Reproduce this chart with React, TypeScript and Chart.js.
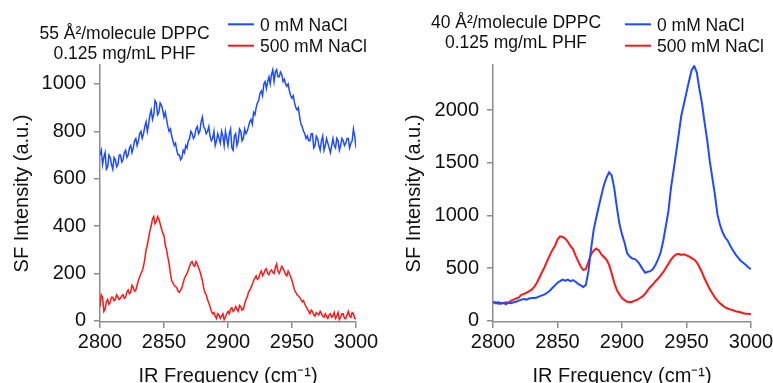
import React, { useEffect, useRef } from "react";
import { Chart, registerables } from "chart.js";

Chart.register(...registerables);

// ---------------- data ----------------
// 55 Å²/molecule panel: sampled every 1 cm-1
const FREQ_LEFT = [
  2800, 2801, 2802, 2803, 2804, 2805, 2806, 2807, 2808, 2809,
  2810, 2811, 2812, 2813, 2814, 2815, 2816, 2817, 2818, 2819,
  2820, 2821, 2822, 2823, 2824, 2825, 2826, 2827, 2828, 2829,
  2830, 2831, 2832, 2833, 2834, 2835, 2836, 2837, 2838, 2839,
  2840, 2841, 2842, 2843, 2844, 2845, 2846, 2847, 2848, 2849,
  2850, 2851, 2852, 2853, 2854, 2855, 2856, 2857, 2858, 2859,
  2860, 2861, 2862, 2863, 2864, 2865, 2866, 2867, 2868, 2869,
  2870, 2871, 2872, 2873, 2874, 2875, 2876, 2877, 2878, 2879,
  2880, 2881, 2882, 2883, 2884, 2885, 2886, 2887, 2888, 2889,
  2890, 2891, 2892, 2893, 2894, 2895, 2896, 2897, 2898, 2899,
  2900, 2901, 2902, 2903, 2904, 2905, 2906, 2907, 2908, 2909,
  2910, 2911, 2912, 2913, 2914, 2915, 2916, 2917, 2918, 2919,
  2920, 2921, 2922, 2923, 2924, 2925, 2926, 2927, 2928, 2929,
  2930, 2931, 2932, 2933, 2934, 2935, 2936, 2937, 2938, 2939,
  2940, 2941, 2942, 2943, 2944, 2945, 2946, 2947, 2948, 2949,
  2950, 2951, 2952, 2953, 2954, 2955, 2956, 2957, 2958, 2959,
  2960, 2961, 2962, 2963, 2964, 2965, 2966, 2967, 2968, 2969,
  2970, 2971, 2972, 2973, 2974, 2975, 2976, 2977, 2978, 2979,
  2980, 2981, 2982, 2983, 2984, 2985, 2986, 2987, 2988, 2989,
  2990, 2991, 2992, 2993, 2994, 2995, 2996, 2997, 2998, 2999,
  3000,
];

const LEFT_0MM = [
  700, 720, 660, 690, 710, 640, 650, 700, 690, 660,
  640, 690, 680, 650, 660, 700, 700, 670, 680, 710,
  720, 690, 700, 730, 740, 710, 730, 760, 770, 740,
  760, 790, 800, 770, 790, 820, 840, 800, 830, 870,
  890, 850, 870, 930, 920, 870, 880, 920, 910, 890,
  860, 880, 850, 820, 800, 810, 780, 760, 740, 750,
  720, 700, 700, 680, 690, 720, 710, 740, 730, 760,
  770, 800, 790, 770, 780, 810, 820, 790, 800, 840,
  860, 820, 810, 790, 800, 820, 780, 760, 770, 800,
  740, 760, 790, 770, 750, 800, 780, 740, 800, 770,
  740, 790, 810, 730, 720, 780, 790, 740, 760, 810,
  800, 760, 770, 810, 790, 800, 820, 840, 850, 830,
  880, 870, 900, 920, 930, 960, 970, 950, 1000, 1010,
  980, 1010, 1030, 1000, 1040, 1060, 1010, 1050, 1060, 1030,
  1030, 1050, 1040, 1010, 1020, 1000, 990, 1000, 970, 950,
  940, 950, 920, 900, 890, 900, 860, 830, 820, 800,
  790, 770, 780, 760, 760, 790, 790, 730, 740, 780,
  770, 740, 720, 760, 780, 720, 740, 770, 750, 730,
  710, 740, 770, 740, 730, 770, 760, 720, 740, 770,
  760, 740, 750, 770, 770, 730, 750, 760, 810, 780,
  730,
];

const LEFT_500MM = [
  60, 110, 100, 40, 50, 80, 90, 70, 80, 100,
  100, 85, 90, 110, 100, 90, 95, 105, 110, 95,
  100, 120, 130, 115, 120, 150, 140, 125, 130, 150,
  170, 185, 200, 210, 230, 260, 300, 320, 350, 380,
  400, 430, 440, 410, 420, 440, 430, 410, 390, 370,
  360, 320, 300, 270, 240, 200, 170, 160, 150, 145,
  140, 125, 120, 130, 140, 160, 180, 190, 200, 215,
  230, 245, 250, 235, 230, 250, 240, 225, 210, 190,
  170, 140, 120, 110, 90, 75, 60, 40, 30, 35,
  20, 10, 30, 25, 10, 20, 30, 5, 15, 30,
  40, 30, 50, 55, 40, 45, 60, 50, 40, 65,
  60, 45, 50, 70, 90, 100, 120, 130, 140, 155,
  170, 180, 190, 175, 180, 200, 210, 190, 200, 215,
  220, 200, 195, 210, 215, 205, 200, 225, 240, 210,
  200, 215, 230, 220, 210, 195, 190, 210, 200, 185,
  170, 150, 130, 120, 110, 105, 100, 90, 80, 85,
  70, 60, 50, 40, 30, 45, 40, 25, 20, 35,
  30, 25, 40, 30, 20, 15, 30, 20, 10, 25,
  30, 15, 20, 35, 10, 20, 35, 5, 15, 30,
  30, 10, 10, 25, 40, 20, 15, 35, 30, 10,
  10,
];

// 40 Å²/molecule panel: sampled every 2 cm-1
const FREQ_RIGHT = [
  2800, 2802, 2804, 2806, 2808, 2810, 2812, 2814, 2816, 2818,
  2820, 2822, 2824, 2826, 2828, 2830, 2832, 2834, 2836, 2838,
  2840, 2842, 2844, 2846, 2848, 2850, 2852, 2854, 2856, 2858,
  2860, 2862, 2864, 2866, 2868, 2870, 2872, 2874, 2876, 2878,
  2880, 2882, 2884, 2886, 2888, 2890, 2892, 2894, 2896, 2898,
  2900, 2902, 2904, 2906, 2908, 2910, 2912, 2914, 2916, 2918,
  2920, 2922, 2924, 2926, 2928, 2930, 2932, 2934, 2936, 2938,
  2940, 2942, 2944, 2946, 2948, 2950, 2952, 2954, 2956, 2958,
  2960, 2962, 2964, 2966, 2968, 2970, 2972, 2974, 2976, 2978,
  2980, 2982, 2984, 2986, 2988, 2990, 2992, 2994, 2996, 2998,
  3000,
];

const RIGHT_0MM = [
  180, 165, 175, 160, 170, 155, 170, 165, 175, 180,
  190, 200, 205, 200, 210, 215, 215, 220, 230, 240,
  250, 265, 285, 310, 335, 360, 375, 390, 380, 390,
  375, 385, 370, 350, 335, 320, 340, 470, 680, 860,
  975, 1085, 1190, 1290, 1360, 1410, 1380, 1260, 1080, 920,
  820, 740, 640, 610, 590, 585, 565, 530, 490, 455,
  465, 470, 490, 530, 585, 650, 760, 900, 1043, 1265,
  1430, 1600, 1775, 1950, 2060, 2170, 2280, 2380, 2420, 2360,
  2200, 2065, 1885, 1720, 1520, 1360, 1200, 1010, 910, 840,
  790, 760, 710, 670, 630, 600, 570, 550, 530, 505,
  490,
];
const RIGHT_500MM = [
  170, 175, 160, 170, 165, 175, 170, 190, 200, 210,
  220, 245, 255, 265, 280, 295, 320, 360, 410, 460,
  510, 565, 620, 670, 710, 770, 800, 795, 780, 750,
  710, 680, 620, 565, 515, 480, 490, 560, 630, 665,
  685, 670, 630, 605, 580, 530, 450, 360, 290, 250,
  215, 195, 180, 175, 180, 190, 200, 215, 230, 255,
  290, 320, 345, 375, 400, 430, 460, 500, 540, 580,
  610, 630, 635, 625, 630, 620, 610, 595, 580, 555,
  510, 460, 400, 350, 300, 260, 220, 190, 165, 145,
  125, 115, 105, 100, 90, 85, 80, 70, 65, 65,
  60,
];

const X_TICKS = [2800, 2850, 2900, 2950, 3000];
const LEFT_Y_TICKS = [0, 200, 400, 600, 800, 1000];
const RIGHT_Y_TICKS = [0, 500, 1000, 1500, 2000];

const SERIES_LABELS = ["0 mM NaCl", "500 mM NaCl"];
const LEFT_TITLE = ["55 Å²/molecule DPPC", "0.125 mg/mL PHF"];
const RIGHT_TITLE = ["40 Å²/molecule DPPC", "0.125 mg/mL PHF"];
const Y_TITLE = "SF Intensity (a.u.)";
const X_TITLE = "IR Frequency (cm⁻¹)";

// ---------------- styles ----------------
const FONT = '"Liberation Sans", Arial, Helvetica, sans-serif';
const BLUE = "#1f4bff";
const RED = "#ff1616";
const AXIS = "#8c8c8c";
const TEXT = "#111111";
const CANVAS_H = 390;

const panelTextPlugin = {
  id: "panelText",
  afterDraw(chart: any, _args: any, opts: any) {
    const ctx = chart.ctx;
    ctx.save();
    ctx.fillStyle = TEXT;
    ctx.font = `${opts.fontSize}px ${FONT}`;
    ctx.textAlign = "center";
    ctx.textBaseline = "alphabetic";
    opts.title.forEach((t: string, i: number) => {
      ctx.fillText(t, opts.titleX, opts.titleY + i * opts.titleGap);
    });
    ctx.textAlign = "left";
    chart.data.datasets.forEach((ds: any, i: number) => {
      const y = opts.legendY + i * opts.legendGap;
      ctx.strokeStyle = ds.borderColor;
      ctx.lineWidth = 2;
      ctx.beginPath();
      ctx.moveTo(opts.legendX, y);
      ctx.lineTo(opts.legendX + opts.swatch, y);
      ctx.stroke();
      ctx.fillText(ds.label, opts.legendX + opts.swatch + 6, y + 6.6);
    });
    ctx.restore();
  },
};

type PanelProps = {
  left: number;
  width: number;
  freq: number[];
  blue: number[];
  red: number[];
  yMin: number;
  yMax: number;
  yTicks: number[];
  yWidth: number;
  padRight: number;
  yTitlePad: number;
  lineWidth: number;
  title: string[];
  titleX: number;
  titleY: number;
  legendX: number;
};

function Panel(p: PanelProps) {
  const ref = useRef<HTMLCanvasElement | null>(null);
  useEffect(() => {
    if (!ref.current) return;
    const tickFont = { family: FONT, size: 20 };
    const chart = new Chart(ref.current, {
      type: "line",
      data: {
        datasets: [
          {
            label: SERIES_LABELS[0],
            data: p.freq.map((x, i) => ({ x, y: p.blue[i] })),
            borderColor: BLUE,
            borderWidth: p.lineWidth,
            pointRadius: 0,
            tension: 0,
            fill: false,
          },
          {
            label: SERIES_LABELS[1],
            data: p.freq.map((x, i) => ({ x, y: p.red[i] })),
            borderColor: RED,
            borderWidth: p.lineWidth,
            pointRadius: 0,
            tension: 0,
            fill: false,
          },
        ],
      },
      options: {
        responsive: false,
        animation: false,
        devicePixelRatio: 1,
        layout: { padding: { left: 0, top: 65, right: p.padRight, bottom: 0 } },
        plugins: {
          legend: { display: false },
          tooltip: { enabled: false },
          title: { display: false },
          panelText: {
            fontSize: 17.5,
            title: p.title,
            titleX: p.titleX,
            titleY: p.titleY,
            titleGap: 19.5,
            legendX: p.legendX,
            legendY: 24.3,
            legendGap: 21.4,
            swatch: 26,
          },
        } as any,
        scales: {
          x: {
            type: "linear",
            min: 2800,
            max: 3000,
            afterBuildTicks: (s: any) => {
              s.ticks = X_TICKS.map((v) => ({ value: v }));
            },
            afterFit: (s: any) => {
              s.height = CANVAS_H - 322;
            },
            ticks: {
              font: tickFont,
              color: TEXT,
              padding: 2,
              maxRotation: 0,
              minRotation: 0,
              autoSkip: false,
              callback: (v: any) => String(v),
            },
            grid: {
              display: true,
              drawOnChartArea: false,
              drawTicks: true,
              tickLength: 6,
              color: AXIS,
              lineWidth: 1.5,
            },
            border: { display: true, color: AXIS, width: 1.5 },
            title: {
              display: true,
              text: X_TITLE,
              font: tickFont,
              color: TEXT,
              padding: { top: 0, bottom: 2 },
            },
          },
          y: {
            type: "linear",
            min: p.yMin,
            max: p.yMax,
            afterBuildTicks: (s: any) => {
              s.ticks = p.yTicks.map((v) => ({ value: v }));
            },
            afterFit: (s: any) => {
              s.width = p.yWidth;
            },
            ticks: {
              font: tickFont,
              color: TEXT,
              padding: 8,
              autoSkip: false,
              callback: (v: any) => String(v),
            },
            grid: {
              display: true,
              drawOnChartArea: false,
              drawTicks: true,
              tickLength: 6,
              color: AXIS,
              lineWidth: 1.5,
            },
            border: { display: true, color: AXIS, width: 1.5 },
            title: {
              display: true,
              text: Y_TITLE,
              font: tickFont,
              color: TEXT,
              padding: { top: p.yTitlePad, bottom: 0 },
            },
          },
        },
      } as any,
      plugins: [panelTextPlugin as any],
    });
    return () => chart.destroy();
  }, []);
  return (
    <canvas
      ref={ref}
      width={p.width}
      height={CANVAS_H}
      style={{ position: "absolute", left: p.left, top: 0, width: p.width, height: CANVAS_H }}
    />
  );
}

export default function App() {
  return (
    <div
      style={{
        position: "fixed",
        left: 0,
        top: 0,
        width: 773,
        height: 383,
        overflow: "hidden",
        background: "#ffffff",
      }}
    >
      <Panel
        left={0}
        width={386}
        freq={FREQ_LEFT}
        blue={LEFT_0MM}
        red={LEFT_500MM}
        yMin={-5}
        yMax={1080}
        yTicks={LEFT_Y_TICKS}
        yWidth={100}
        padRight={30}
        yTitlePad={10}
        lineWidth={1.5}
        title={LEFT_TITLE}
        titleX={124.5}
        titleY={39}
        legendX={228}
      />
      <Panel
        left={386}
        width={400}
        freq={FREQ_RIGHT}
        blue={RIGHT_0MM}
        red={RIGHT_500MM}
        yMin={-13}
        yMax={2430}
        yTicks={RIGHT_Y_TICKS}
        yWidth={107}
        padRight={35}
        yTitlePad={16}
        lineWidth={2}
        title={RIGHT_TITLE}
        titleX={130}
        titleY={28.3}
        legendX={239}
      />
    </div>
  );
}
